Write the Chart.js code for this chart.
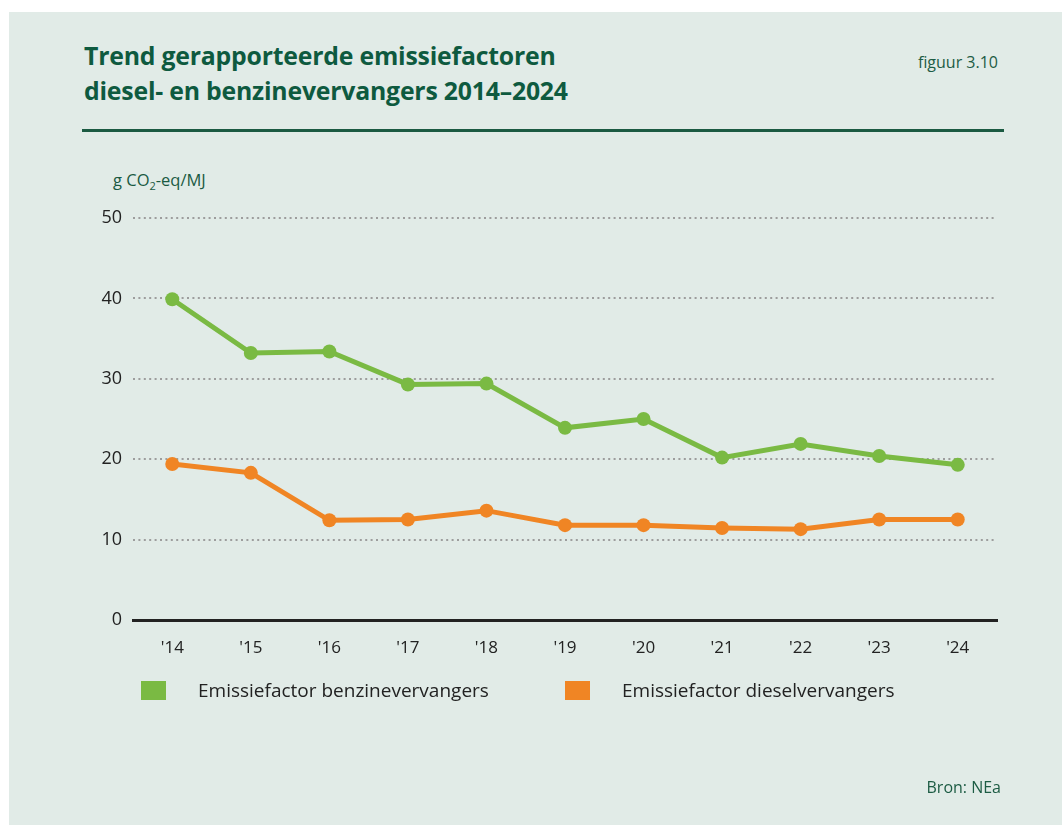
<!DOCTYPE html>
<html lang="nl">
<head>
<meta charset="utf-8">
<title>Trend gerapporteerde emissiefactoren</title>
<script src="https://cdn.jsdelivr.net/npm/chart.js@4"></script>
<style>
    body { margin: 0; background: #ffffff; font-family: "Open Sans", sans-serif; }
    .panel { position: absolute; left: 9px; top: 12px; width: 1053px; height: 813px; background: #e1ebe7; }
    .title { position: absolute; left: 84px; top: 38px; font-weight: 700; font-size: 24.8px; line-height: 35px; color: #0e5a3f; letter-spacing: -0.2px; }
    .fig { position: absolute; right: 64px; top: 51px; font-size: 16px; color: #1d5c44; }
    .rule { position: absolute; left: 82px; top: 129px; width: 922px; height: 3px; background: #1b5a42; }
    .unit { position: absolute; left: 113px; top: 168px; font-size: 16.5px; color: #1a5a42; }
    .unit sub { font-size: 11px; vertical-align: -4px; }
    .legend { position: absolute; top: 681px; left: 141px; font-size: 19px; color: #222; }
    .legend-item { position: absolute; top: 0; white-space: nowrap; }
    .legend-item .box { position: absolute; left: 0; top: 0; width: 25px; height: 19px; }
    .legend-item .txt { position: absolute; top: -3px; line-height: 24px; }
    .source { position: absolute; right: 61px; top: 776px; font-size: 16px; color: #1d5c44; }
    canvas { position: absolute; left: 0; top: 0; }
</style>
</head>
<body>
<div class="panel"></div>
<div class="title">Trend gerapporteerde emissiefactoren<br>diesel- en benzinevervangers 2014–2024</div>
<div class="fig">figuur 3.10</div>
<div class="rule"></div>
<div class="unit">g CO<sub>2</sub>-eq/MJ</div>
<canvas id="emissionChart" width="1062" height="825"></canvas>
<div class="legend" id="legend"></div>
<div class="source">Bron: NEa</div>

<script>
// Data
const years = ["'14", "'15", "'16", "'17", "'18", "'19", "'20", "'21", "'22", "'23", "'24"];
const benzine = [39.9, 33.2, 33.4, 29.3, 29.4, 23.9, 25.0, 20.2, 21.9, 20.4, 19.3];
const diesel = [19.4, 18.3, 12.4, 12.5, 13.6, 11.8, 11.8, 11.45, 11.3, 12.5, 12.5];
const yTicks = [0, 10, 20, 30, 40, 50];

const seriesLabels = ['Emissiefactor benzinevervangers', 'Emissiefactor dieselvervangers'];
const seriesColors = ['#7aba43', '#f08524'];

const ctx = document.getElementById('emissionChart').getContext('2d');
const chart = new Chart(ctx, {
    type: 'line',
    data: {
        labels: years,
        datasets: [
            {
                label: seriesLabels[0],
                data: benzine,
                borderColor: seriesColors[0],
                backgroundColor: seriesColors[0],
                borderWidth: 5,
                pointRadius: 7,
                pointBorderWidth: 0,
                tension: 0
            },
            {
                label: seriesLabels[1],
                data: diesel,
                borderColor: seriesColors[1],
                backgroundColor: seriesColors[1],
                borderWidth: 5,
                pointRadius: 7,
                pointBorderWidth: 0,
                tension: 0
            }
        ]
    },
    options: {
        responsive: false,
        animation: false,
        layout: {
            padding: { left: 90, right: 65, top: 218, bottom: 160 }
        },
        plugins: {
            legend: { display: false },
            tooltip: { enabled: false }
        },
        scales: {
            x: {
                offset: true,
                afterFit: (scale) => { scale.height = 45; },
                grid: { display: false, drawTicks: false },
                border: { display: true, color: '#222222', width: 3 },
                ticks: {
                    padding: 18,
                    color: '#222222',
                    font: { family: 'Open Sans', size: 17 }
                }
            },
            y: {
                min: 0,
                max: 50,
                afterFit: (scale) => { scale.width = 43; },
                afterBuildTicks: (scale) => {
                    scale.ticks = yTicks.map(v => ({ value: v }));
                },
                grid: {
                    drawTicks: false,
                    lineWidth: 2,
                    color: (c) => c.tick && c.tick.value === 0 ? 'rgba(0,0,0,0)' : '#9d9d9d'
                },
                border: { display: false, dash: [2, 3.4] },
                ticks: {
                    padding: 11,
                    color: '#222222',
                    font: { family: 'Open Sans', size: 18 }
                }
            }
        }
    }
});

// HTML legend built from the datasets
const legendEl = document.getElementById('legend');
const legendOffsets = [0, 424];
chart.data.datasets.forEach((ds, i) => {
    const item = document.createElement('div');
    item.className = 'legend-item';
    item.style.left = legendOffsets[i] + 'px';
    item.innerHTML = '<span class="box" style="background:' + ds.borderColor + '"></span>' +
        '<span class="txt" style="left:57px">' + ds.label + '</span>';
    legendEl.appendChild(item);
});
</script>
</body>
</html>
